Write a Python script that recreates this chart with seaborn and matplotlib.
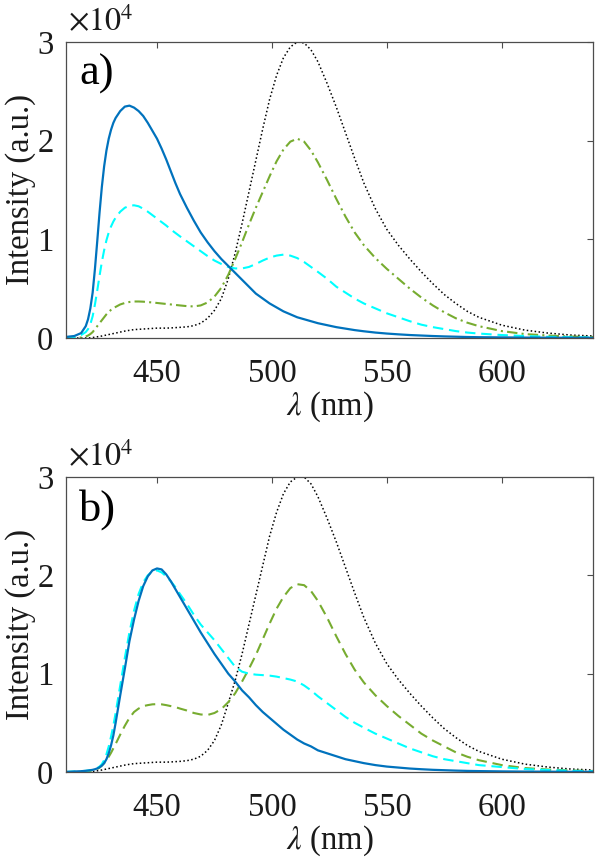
import numpy as np
import pandas as pd
import matplotlib
matplotlib.use("Agg")
import matplotlib.pyplot as plt
import seaborn as sns

# ---------------- data (intensity in units of 1e4) ----------------
wavelength = [410, 414, 417, 419, 420, 421, 422, 423, 424, 425, 426, 427, 428, 429, 430, 431,
              432, 434, 436, 438, 440, 442, 444, 446, 448, 450, 452, 454, 456, 458, 460, 463,
              466, 469, 472, 475, 478, 481, 484, 487, 490, 493, 496, 499, 502, 505, 508, 511,
              514, 517, 520, 524, 528, 532, 536, 540, 545, 550, 555, 560, 565, 570, 575, 580,
              585, 590, 600, 610, 620, 630, 640]

a_blue = [0.01, 0.02, 0.05, 0.12, 0.19, 0.30, 0.46, 0.70, 0.98, 1.27, 1.53, 1.74, 1.90, 2.02, 2.11, 2.18,
          2.23, 2.30, 2.345, 2.355, 2.335, 2.30, 2.25, 2.18, 2.10, 2.02, 1.92, 1.81, 1.69, 1.57, 1.46, 1.32,
          1.19, 1.07, 0.97, 0.88, 0.80, 0.73, 0.66, 0.59, 0.52, 0.45, 0.40, 0.35, 0.31, 0.27, 0.24, 0.21,
          0.19, 0.17, 0.15, 0.13, 0.11, 0.095, 0.08, 0.068, 0.055, 0.045, 0.037, 0.030, 0.025, 0.020, 0.016, 0.013,
          0.010, 0.008, 0.006, 0.004, 0.003, 0.002, 0.002]
a_cyan = [0.0, 0.01, 0.03, 0.06, 0.09, 0.14, 0.22, 0.34, 0.48, 0.63, 0.77, 0.89, 0.99, 1.07, 1.13, 1.18,
          1.22, 1.28, 1.32, 1.34, 1.345, 1.335, 1.31, 1.28, 1.245, 1.21, 1.175, 1.14, 1.10, 1.065, 1.03, 0.98,
          0.93, 0.88, 0.83, 0.785, 0.75, 0.72, 0.705, 0.705, 0.72, 0.75, 0.785, 0.815, 0.835, 0.845, 0.835, 0.81,
          0.77, 0.72, 0.67, 0.60, 0.52, 0.46, 0.40, 0.35, 0.30, 0.25, 0.21, 0.17, 0.135, 0.11, 0.09, 0.07,
          0.055, 0.045, 0.03, 0.02, 0.012, 0.008, 0.005]
a_green = [0.0, 0.0, 0.005, 0.015, 0.025, 0.04, 0.06, 0.09, 0.12, 0.15, 0.18, 0.21, 0.24, 0.265, 0.285, 0.30,
           0.315, 0.34, 0.355, 0.365, 0.37, 0.37, 0.368, 0.364, 0.36, 0.355, 0.35, 0.345, 0.34, 0.335, 0.33, 0.323,
           0.32, 0.33, 0.36, 0.42, 0.51, 0.64, 0.80, 0.97, 1.15, 1.32, 1.48, 1.64, 1.79, 1.91, 1.99, 2.02,
           1.99, 1.90, 1.78, 1.60, 1.41, 1.23, 1.07, 0.94, 0.81, 0.70, 0.60, 0.50, 0.41, 0.33, 0.26, 0.20,
           0.155, 0.12, 0.07, 0.04, 0.025, 0.015, 0.01]
a_black = [0.0, 0.0, 0.0, 0.0, 0.0, 0.002, 0.005, 0.008, 0.012, 0.016, 0.02, 0.025, 0.03, 0.035, 0.04, 0.045,
           0.05, 0.06, 0.07, 0.078, 0.085, 0.088, 0.091, 0.094, 0.097, 0.10, 0.10, 0.10, 0.102, 0.105, 0.108, 0.113,
           0.125, 0.15, 0.20, 0.28, 0.40, 0.60, 0.86, 1.16, 1.48, 1.80, 2.12, 2.42, 2.66, 2.84, 2.95, 3.00,
           2.99, 2.92, 2.80, 2.58, 2.34, 2.08, 1.82, 1.57, 1.31, 1.10, 0.94, 0.80, 0.67, 0.55, 0.44, 0.35,
           0.27, 0.21, 0.13, 0.08, 0.05, 0.03, 0.02]

b_blue = [0.0, 0.005, 0.008, 0.012, 0.015, 0.018, 0.022, 0.028, 0.036, 0.048, 0.065, 0.09, 0.13, 0.19, 0.27, 0.37,
          0.50, 0.78, 1.05, 1.33, 1.55, 1.74, 1.89, 1.99, 2.05, 2.07, 2.06, 2.01, 1.94, 1.86, 1.78, 1.66,
          1.54, 1.42, 1.31, 1.20, 1.10, 1.00, 0.92, 0.83, 0.76, 0.68, 0.61, 0.55, 0.49, 0.43, 0.38, 0.33,
          0.29, 0.26, 0.22, 0.19, 0.16, 0.13, 0.11, 0.09, 0.07, 0.055, 0.045, 0.035, 0.028, 0.022, 0.018, 0.014,
          0.011, 0.009, 0.006, 0.004, 0.003, 0.002, 0.002]
b_cyan = [0.0, 0.005, 0.008, 0.012, 0.015, 0.018, 0.022, 0.03, 0.04, 0.055, 0.08, 0.12, 0.18, 0.26, 0.36, 0.47,
          0.60, 0.88, 1.16, 1.42, 1.64, 1.81, 1.93, 2.00, 2.04, 2.05, 2.03, 1.99, 1.94, 1.88, 1.81, 1.71,
          1.60, 1.50, 1.42, 1.34, 1.25, 1.16, 1.07, 1.02, 1.00, 0.99, 0.985, 0.98, 0.97, 0.955, 0.94, 0.92,
          0.88, 0.83, 0.77, 0.70, 0.63, 0.56, 0.50, 0.45, 0.39, 0.34, 0.29, 0.24, 0.20, 0.16, 0.13, 0.11,
          0.09, 0.07, 0.05, 0.03, 0.02, 0.012, 0.008]
b_green = [0.0, 0.0, 0.003, 0.006, 0.008, 0.011, 0.015, 0.02, 0.03, 0.045, 0.065, 0.09, 0.12, 0.155, 0.195, 0.24,
           0.285, 0.38, 0.47, 0.55, 0.61, 0.645, 0.67, 0.68, 0.688, 0.69, 0.688, 0.68, 0.67, 0.66, 0.645, 0.625,
           0.60, 0.585, 0.58, 0.60, 0.64, 0.71, 0.80, 0.92, 1.05, 1.19, 1.35, 1.51, 1.66, 1.78, 1.87, 1.91,
           1.90, 1.84, 1.74, 1.57, 1.38, 1.20, 1.04, 0.91, 0.78, 0.67, 0.57, 0.48, 0.39, 0.32, 0.26, 0.20,
           0.155, 0.12, 0.07, 0.04, 0.025, 0.015, 0.01]
b_black = [0.0, 0.0, 0.0, 0.0, 0.0, 0.002, 0.005, 0.008, 0.012, 0.016, 0.02, 0.025, 0.03, 0.035, 0.04, 0.045,
           0.05, 0.06, 0.07, 0.078, 0.085, 0.088, 0.091, 0.094, 0.097, 0.10, 0.10, 0.10, 0.102, 0.105, 0.108, 0.115,
           0.13, 0.16, 0.22, 0.32, 0.48, 0.70, 0.93, 1.20, 1.50, 1.80, 2.10, 2.40, 2.64, 2.83, 2.95, 3.00,
           3.00, 2.93, 2.80, 2.58, 2.34, 2.08, 1.82, 1.57, 1.31, 1.10, 0.94, 0.80, 0.67, 0.55, 0.44, 0.35,
           0.27, 0.21, 0.13, 0.08, 0.05, 0.03, 0.02]

x_ticks = [450, 500, 550, 600]
y_ticks = [0, 1, 2, 3]
panel_labels = ["a)", "b)"]

# ---------------- styling ----------------
sns.set_theme(style="white")
plt.rcParams["font.family"] = ["Liberation Serif", "DejaVu Serif"]
plt.rcParams["mathtext.fontset"] = "stix"

BLUE = "#0072BD"
CYAN = "#00FFFF"
GREEN = "#77AC30"
BLACK = "#000000"
AX = "#4d4d4d"
TXT = "#1a1a1a"
FS = 23.5

fig = plt.figure(figsize=(5.96, 8.64), dpi=100)
ax_a = fig.add_axes([0.1107, 0.6088, 0.884, 0.3426])
ax_b = fig.add_axes([0.1107, 0.1065, 0.884, 0.3414])

panels = [
    (ax_a, [(a_blue, BLUE, "-", 1.6), (a_cyan, CYAN, (0, (5, 2.8)), 1.5),
            (a_green, GREEN, (0, (5, 2, 1, 2)), 1.5), (a_black, BLACK, (0, (1, 1.6)), 1.1)]),
    (ax_b, [(b_blue, BLUE, "-", 1.6), (b_cyan, CYAN, (0, (5, 2.8)), 1.5),
            (b_green, GREEN, (0, (5, 2.8)), 1.5), (b_black, BLACK, (0, (1, 1.6)), 1.1)]),
]

for (ax, series), lab in zip(panels, panel_labels):
    for i in [3, 2, 1, 0]:
        vals, col, ls, lw = series[i]
        df = pd.DataFrame({"wl": wavelength, "I": vals})
        sns.lineplot(data=df, x="wl", y="I", ax=ax, color=col, linestyle=ls,
                     linewidth=lw, sort=True, errorbar=None)
    ax.set_xlim(410.4, 639.6)
    ax.set_ylim(0, 3)
    ax.set_xticks(x_ticks)
    ax.set_yticks(y_ticks)
    ax.set_xticklabels([str(t) for t in x_ticks])
    ax.set_yticklabels([str(t) for t in y_ticks])
    ax.tick_params(direction="in", length=4, width=0.8, colors=AX, labelcolor=TXT,
                   labelsize=FS, top=True, right=True)
    ax.tick_params(axis="x", pad=15)
    ax.tick_params(axis="y", pad=9)
    for sp in ax.spines.values():
        sp.set_visible(True)
        sp.set_color(AX)
        sp.set_linewidth(0.9)
    ax.set_xlabel(r"$\lambda$ (nm)", fontsize=FS, color=TXT, labelpad=0)
    ax.set_ylabel("Intensity (a.u.)", fontsize=FS, color=TXT, labelpad=1)
    ax.text(0.003, 1.012, r"$\times10^{4}$", transform=ax.transAxes, fontsize=23,
            color=TXT, ha="left", va="bottom")
    ax.text(0.025, 0.96, lab, transform=ax.transAxes, fontsize=32,
            color="black", ha="left", va="top")
    ax.set_facecolor("white")

fig.savefig("out.png", dpi=100, facecolor="white")
